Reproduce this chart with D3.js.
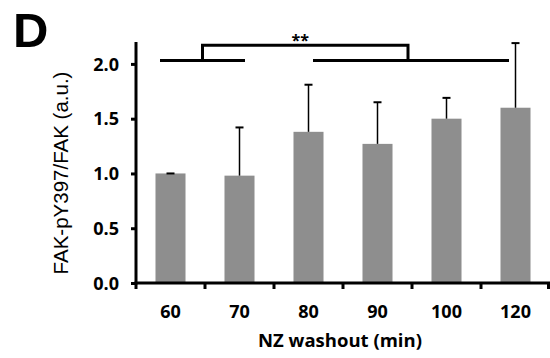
<!DOCTYPE html>
<html><head><meta charset="utf-8">
<script src="https://cdn.jsdelivr.net/npm/d3@7"></script>
<style>body{margin:0;background:#fff}svg{display:block}</style>
</head><body>
<svg id="c" width="550" height="358"></svg>
<script>
const categories = ["60","70","80","90","100","120"];
const values = [1.00, 0.98, 1.38, 1.27, 1.50, 1.60];
const errors = [0.00, 0.44, 0.43, 0.38, 0.19, 0.59];
const yTicks = [0.0, 0.5, 1.0, 1.5, 2.0];
const groupA = ["60","70"];
const groupB = ["80","120"];
const sigLabel = "**";

const svg = d3.select("#c");
const x0 = 136, x1 = 550, yTop = 42, yBot = 283;
const x = d3.scaleBand().domain(categories).range([x0, x1]).paddingInner(0.565).paddingOuter(0.2825);
const y = d3.scaleLinear().domain([0, 2.2]).range([yBot, yTop]);
const cxOf = d => x(d) + x.bandwidth()/2;

// bars
svg.append("g").selectAll("rect").data(categories).join("rect")
  .attr("x", d => x(d)).attr("width", x.bandwidth())
  .attr("y", (d,i) => y(values[i])).attr("height", (d,i) => yBot - y(values[i]))
  .attr("fill", "#8e8e8e");

// error bars
const eg = svg.append("g").attr("stroke", "#000").attr("stroke-width", 1.5);
categories.forEach((c,i) => {
  const cx = cxOf(c);
  const top = y(values[i] + errors[i]);
  eg.append("line").attr("x1", cx).attr("x2", cx).attr("y1", y(values[i])).attr("y2", top);
  eg.append("line").attr("x1", cx-4).attr("x2", cx+4).attr("y1", top).attr("y2", top).attr("stroke-width", 2);
});

// y axis
const yAxis = svg.append("g").attr("transform", `translate(${x0},0)`)
  .call(d3.axisLeft(y).tickValues(yTicks).tickFormat(d3.format(".1f")).tickSize(5).tickSizeOuter(0));
yAxis.select(".domain").attr("stroke-width", 3).attr("d", `M0,${yTop}V${yBot+1.5}`);
yAxis.selectAll(".tick line").attr("stroke-width", 3);
yAxis.selectAll("text").attr("x", -17).attr("dy", "0.35em")
  .style("font-family", "'Open Sans'").style("font-weight", "bold").style("font-size", "18px").attr("fill", "#000");

// x axis with boundary ticks
const xAxis = svg.append("g").attr("transform", `translate(0,${yBot})`);
xAxis.append("line").attr("x1", x0-1.5).attr("x2", x1).attr("y1", 0).attr("y2", 0).attr("stroke", "#000").attr("stroke-width", 3);
const step = x.step();
const bounds = d3.range(categories.length + 1).map(i => x0 + i*step);
xAxis.selectAll(".bt").data(bounds).join("line")
  .attr("x1", d => Math.min(d, x1-1.5)).attr("x2", d => Math.min(d, x1-1.5)).attr("y1", 0).attr("y2", 6)
  .attr("stroke", "#000").attr("stroke-width", 3);
xAxis.selectAll("text").data(categories).join("text")
  .attr("x", d => cxOf(d)).attr("y", 35).attr("text-anchor", "middle")
  .style("font-family", "'Open Sans'").style("font-weight", "bold").style("font-size", "18px").text(d => d);

// axis titles
svg.append("text").attr("x", 340).attr("y", 347).attr("text-anchor", "middle")
  .style("font-family", "'Open Sans'").style("font-weight", "bold").style("font-size", "18.5px").text("NZ washout (min)");
svg.append("text").attr("transform", "translate(68,173) rotate(-90)").attr("text-anchor", "middle")
  .style("font-family", "'Liberation Sans'").style("font-size", "20.5px").text("FAK-pY397/FAK (a.u.)");

// panel label
svg.append("text").attr("x", 13).attr("y", 47)
  .style("font-family", "'Liberation Sans'").style("font-weight", "bold").style("font-size", "49px").text("D");

// significance bracket
const sg = svg.append("g").attr("stroke", "#000").attr("stroke-width", 3).attr("fill", "none");
const yLow = y(2.03), yHigh = y(2.17);
const aL = cxOf(groupA[0]) - 10.5, aR = cxOf(groupA[1]) + 5.5;
const bL = cxOf(groupB[0]) + 4.5, bR = cxOf(groupB[1]) - 6.5;
sg.append("line").attr("x1", aL).attr("x2", aR).attr("y1", yLow).attr("y2", yLow);
sg.append("line").attr("x1", bL).attr("x2", bR).attr("y1", yLow).attr("y2", yLow);
const mA = (aL + aR)/2, mB = (bL + bR)/2 - 3;
sg.append("path").attr("d", `M${mA},${yLow}V${yHigh}H${mB}V${yLow}`);
svg.append("text").attr("x", (mA+mB)/2 - 5).attr("y", 46).attr("text-anchor", "middle")
  .style("font-family", "'Open Sans'").style("font-weight", "bold").style("font-size", "16px").text(sigLabel);
</script>
</body></html>
